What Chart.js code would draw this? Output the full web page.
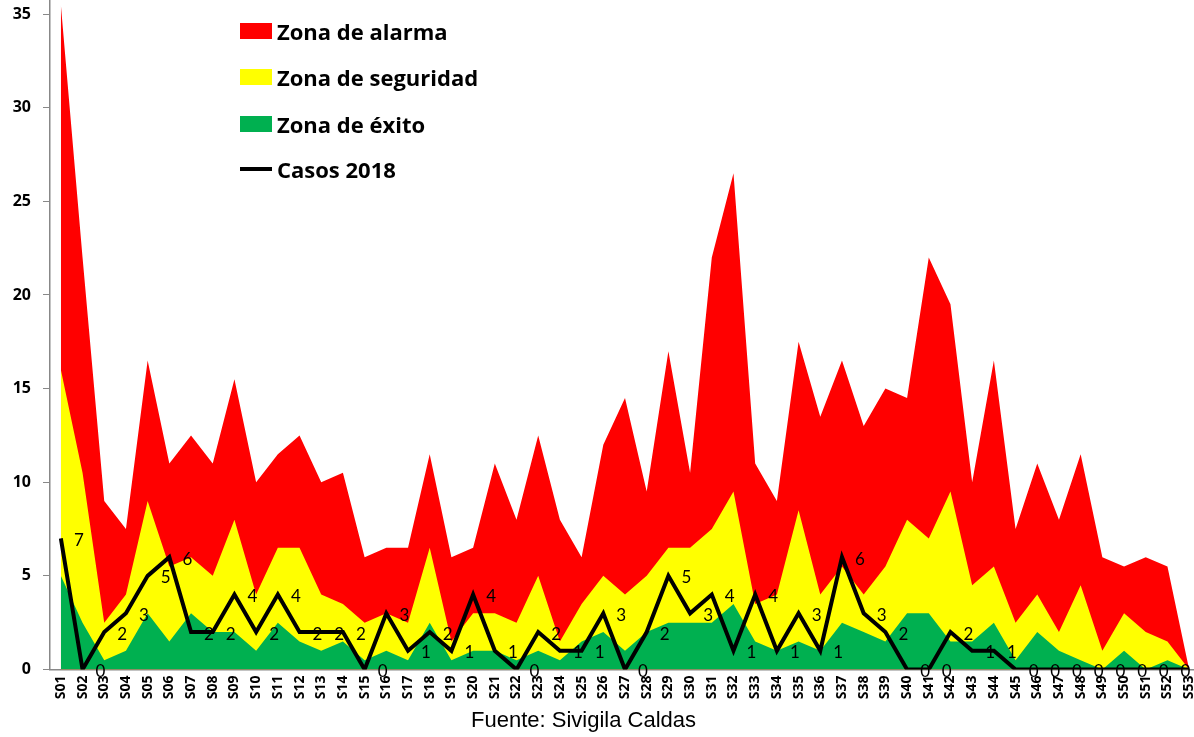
<!DOCTYPE html>
<html>
<head>
<meta charset="utf-8">
<script src="https://cdn.jsdelivr.net/npm/chart.js@4/dist/chart.umd.min.js"></script>
<style>
  html, body { margin: 0; padding: 0; background: #fff; }
  #wrap { position: relative; width: 1194px; height: 737px; overflow: hidden; background: #fff; }
  #c { position: absolute; left: 0; top: 0; }
  .leg { position: absolute; left: 240px; height: 22px; display: flex; align-items: center; font-family: "Open Sans", Lato, sans-serif; font-weight: bold; font-size: 22px; line-height: 22px; color: #000; white-space: nowrap; }
  .sw { width: 32px; height: 16px; margin-right: 5px; }
  .ln { width: 32px; height: 4px; background: #000; margin-right: 5px; }
  #fuente { position: absolute; left: 471px; top: 709px; font-family: "Liberation Sans", Arial, sans-serif; font-size: 22px; line-height: 22px; color: #000; white-space: nowrap; }
</style>
</head>
<body>
<div id="wrap">
  <canvas id="c" width="1200" height="737"></canvas>
  <div class="leg" style="top:20px"><div class="sw" style="background:#FF0000"></div>Zona de alarma</div>
  <div class="leg" style="top:66px"><div class="sw" style="background:#FFFF00"></div>Zona de seguridad</div>
  <div class="leg" style="top:113px"><div class="sw" style="background:#00B050"></div>Zona de éxito</div>
  <div class="leg" style="top:158px"><div class="ln"></div>Casos 2018</div>
  <div id="fuente">Fuente: Sivigila Caldas</div>
</div>
<script>
const semanas = ["S01","S02","S03","S04","S05","S06","S07","S08","S09","S10",
  "S11","S12","S13","S14","S15","S16","S17","S18","S19","S20",
  "S21","S22","S23","S24","S25","S26","S27","S28","S29","S30",
  "S31","S32","S33","S34","S35","S36","S37","S38","S39","S40",
  "S41","S42","S43","S44","S45","S46","S47","S48","S49","S50",
  "S51","S52","S53"];
const zonaAlarma = [35.5,22,9,7.5,16.5,11,12.5,11,15.5,10,
  11.5,12.5,10,10.5,6,6.5,6.5,11.5,6,6.5,
  11,8,12.5,8,6,12,14.5,9.5,17,10.5,
  22,26.5,11,9,17.5,13.5,16.5,13,15,14.5,
  22,19.5,10,16.5,7.5,11,8,11.5,6,5.5,
  6,5.5,0];
const zonaSeguridad = [16,10.5,2.5,4,9,5.5,6,5,8,4,
  6.5,6.5,4,3.5,2.5,3,2.5,6.5,1.5,3,
  3,2.5,5,1.5,3.5,5,4,5,6.5,6.5,
  7.5,9.5,3.5,4,8.5,4,5.5,4,5.5,8,
  7,9.5,4.5,5.5,2.5,4,2,4.5,1,3,
  2,1.5,0];
const zonaExito = [5,2.5,0.5,1,3,1.5,3,2,2,1,
  2.5,1.5,1,1.5,0.5,1,0.5,2.5,0.5,1,
  1,0.5,1,0.5,1.5,2,1,2,2.5,2.5,
  2.5,3.5,1.5,1,1.5,1,2.5,2,1.5,3,
  3,1.5,1.5,2.5,0.5,2,1,0.5,0,1,
  0,0.5,0];
const casos2018 = [7,0,2,3,5,6,2,2,4,2,
  4,2,2,2,0,3,1,2,1,4,
  1,0,2,1,1,3,0,2,5,3,
  4,1,4,1,3,1,6,3,2,0,
  0,2,1,1,0,0,0,0,0,0,
  0,0,0];
const yTicks = [0,5,10,15,20,25,30,35];

const labelPlugin = {
  id: 'casosLabels',
  afterDatasetsDraw(chart) {
    const meta = chart.getDatasetMeta(0);
    const ctx = chart.ctx;
    ctx.save();
    ctx.font = '17px Lato, "Open Sans", sans-serif';
    ctx.fillStyle = '#000';
    ctx.textAlign = 'center';
    ctx.textBaseline = 'middle';
    meta.data.forEach((pt, i) => {
      ctx.fillText(String(casos2018[i]), pt.x + 18, pt.y + 2);
    });
    ctx.restore();
  }
};

const area = (label, data, color, order) => ({
  type: 'line', label, data, order,
  backgroundColor: color, borderColor: color, borderWidth: 0,
  fill: 'origin', pointRadius: 0, tension: 0
});

new Chart(document.getElementById('c'), {
  type: 'line',
  data: {
    labels: semanas,
    datasets: [
      { type: 'line', label: 'Casos 2018', data: casos2018, order: 0,
        borderColor: '#000', backgroundColor: '#000', borderWidth: 4,
        fill: false, pointRadius: 0, tension: 0, borderJoinStyle: 'miter' },
      area('Zona de éxito', zonaExito, '#00B050', 1),
      area('Zona de seguridad', zonaSeguridad, '#FFFF00', 2),
      area('Zona de alarma', zonaAlarma, '#FF0000', 3)
    ]
  },
  options: {
    responsive: false,
    animation: false,
    layout: { padding: 0 },
    plugins: { legend: { display: false }, tooltip: { enabled: false }, title: { display: false } },
    scales: {
      x: {
        type: 'category',
        offset: true,
        grid: { display: true, drawOnChartArea: false, drawTicks: false, color: '#888' },
        border: { display: true, color: '#888', width: 1.5 },
        ticks: { autoSkip: false, maxRotation: 90, minRotation: 90, padding: 6, color: '#000',
                 font: { family: '"Open Sans", Lato, sans-serif', weight: 'bold', size: 14 } },
        afterFit(s) { s.height = 67.5; s.paddingLeft = 0; s.paddingRight = 0; }
      },
      y: {
        min: 0, max: 35.75,
        grid: { display: true, drawOnChartArea: false, drawTicks: true, tickLength: 7, color: '#888' },
        border: { display: true, color: '#888', width: 1.5 },
        afterBuildTicks(s) { s.ticks = yTicks.map(v => ({ value: v })); },
        ticks: { padding: 12, color: '#000',
                 font: { family: '"Open Sans", Lato, sans-serif', weight: 'bold', size: 16 } },
        afterFit(s) { s.width = 50; s.paddingTop = 0; s.paddingBottom = 0; }
      }
    }
  },
  plugins: [labelPlugin]
});
</script>
</body>
</html>
